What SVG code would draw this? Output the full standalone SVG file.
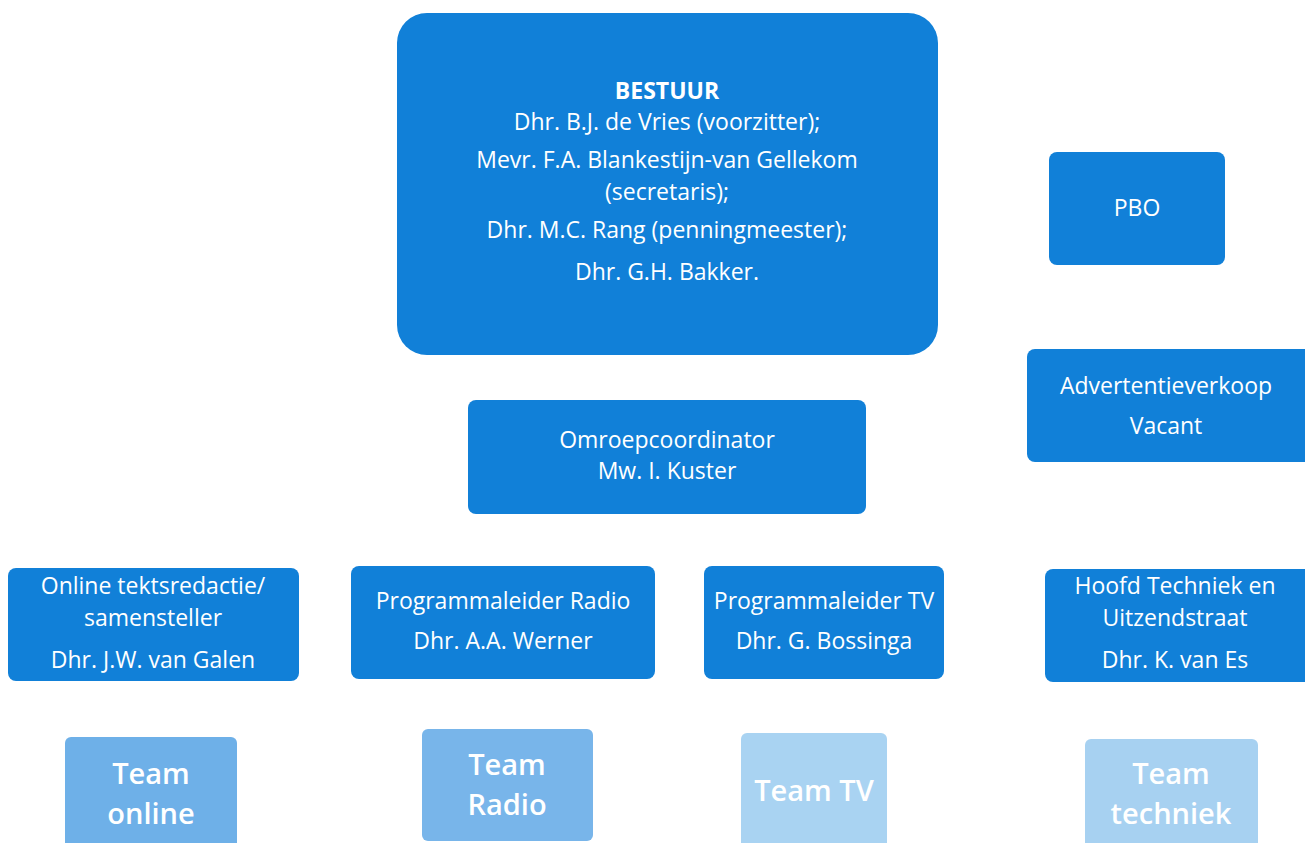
<svg xmlns="http://www.w3.org/2000/svg" width="1305" height="843" viewBox="0 0 1305 843">
<style>
.b{fill:#1180d8}
.t{fill:#fff;font-family:"Open Sans","Noto Sans",sans-serif;font-size:23px;text-anchor:middle}
.bold{font-weight:bold}
.tm{fill:#fff;font-family:"Open Sans","Noto Sans",sans-serif;font-size:29px;font-weight:600;text-anchor:middle}
</style>
<rect width="1305" height="843" fill="#fff"/>
<g id="connectors"></g>
<g id="bestuur">
<rect class="b" x="397" y="13" width="541" height="342" rx="30"/>
<text class="t bold" x="667" y="99">BESTUUR</text>
<text class="t" x="667" y="130">Dhr. B.J. de Vries (voorzitter);</text>
<text class="t" x="667" y="168">Mevr. F.A. Blankestijn-van Gellekom</text>
<text class="t" x="667" y="200">(secretaris);</text>
<text class="t" x="667" y="238">Dhr. M.C. Rang (penningmeester);</text>
<text class="t" x="667" y="280">Dhr. G.H. Bakker.</text>
</g>
<g id="pbo">
<rect class="b" x="1049" y="152" width="176" height="113" rx="8"/>
<text class="t" x="1137" y="216">PBO</text>
</g>
<g id="advertentie">
<rect class="b" x="1027" y="349" width="290" height="113" rx="8"/>
<text class="t" x="1166" y="394">Advertentieverkoop</text>
<text class="t" x="1166" y="434">Vacant</text>
</g>
<g id="omroep">
<rect class="b" x="468" y="400" width="398" height="114" rx="8"/>
<text class="t" x="667" y="448">Omroepcoordinator</text>
<text class="t" x="667" y="479">Mw. I. Kuster</text>
</g>
<g id="online">
<rect class="b" x="8" y="568" width="291" height="113" rx="8"/>
<text class="t" x="153" y="594">Online tektsredactie/</text>
<text class="t" x="153" y="626">samensteller</text>
<text class="t" x="153" y="668">Dhr. J.W. van Galen</text>
</g>
<g id="radio">
<rect class="b" x="351" y="566" width="304" height="113" rx="8"/>
<text class="t" x="503" y="609">Programmaleider Radio</text>
<text class="t" x="503" y="649">Dhr. A.A. Werner</text>
</g>
<g id="tv">
<rect class="b" x="704" y="566" width="240" height="113" rx="8"/>
<text class="t" x="824" y="609">Programmaleider TV</text>
<text class="t" x="824" y="649">Dhr. G. Bossinga</text>
</g>
<g id="techniek">
<rect class="b" x="1045" y="569" width="272" height="113" rx="8"/>
<text class="t" x="1175" y="594">Hoofd Techniek en</text>
<text class="t" x="1175" y="626">Uitzendstraat</text>
<text class="t" x="1175" y="668">Dhr. K. van Es</text>
</g>
<g id="team-online">
<rect x="65" y="737" width="172" height="120" rx="6" fill="#6eb0e8"/>
<text class="tm" x="151" y="784">Team</text>
<text class="tm" x="151" y="824">online</text>
</g>
<g id="team-radio">
<rect x="422" y="729" width="171" height="112" rx="6" fill="#78b5ea"/>
<text class="tm" x="507" y="775">Team</text>
<text class="tm" x="507" y="815">Radio</text>
</g>
<g id="team-tv">
<rect x="741" y="733" width="146" height="120" rx="6" fill="#a9d3f2"/>
<text class="tm" x="814" y="801">Team TV</text>
</g>
<g id="team-techniek">
<rect x="1085" y="739" width="173" height="120" rx="6" fill="#a7d1f1"/>
<text class="tm" x="1171" y="784">Team</text>
<text class="tm" x="1171" y="824">techniek</text>
</g>
</svg>
